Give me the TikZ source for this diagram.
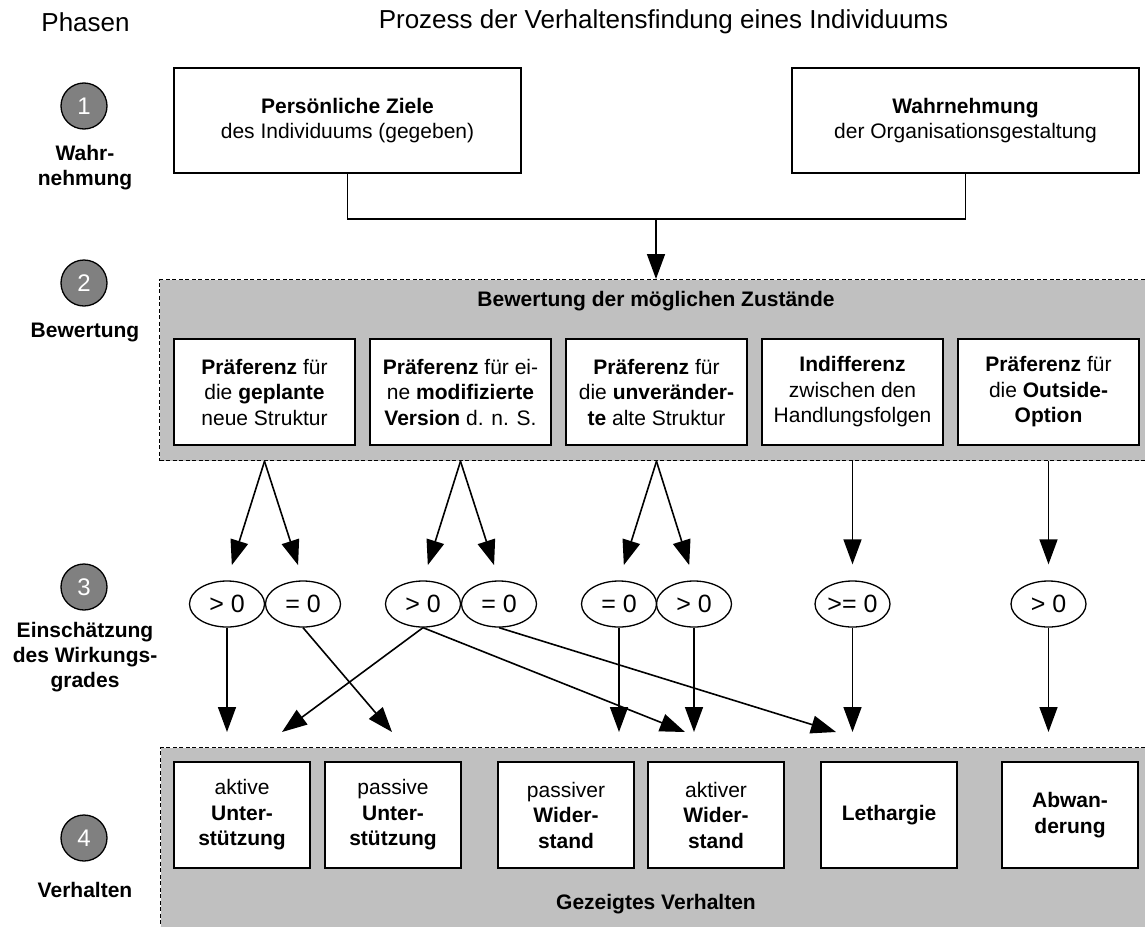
\documentclass[tikz,border=0pt]{standalone}
\usepackage{fontspec}
\setmainfont{Liberation Sans}
\usetikzlibrary{arrows.meta,shapes.geometric}
\definecolor{panelgray}{HTML}{C0C0C0}
\definecolor{phasegray}{HTML}{808080}
\begin{document}
\begin{tikzpicture}[x=1pt,y=-1pt,
  every node/.style={font=\fontsize{21}{25.5}\selectfont},
  box/.style={draw, fill=white, line width=1.6pt, align=center, inner sep=0pt},
  topbox/.style={box, minimum width=347pt, minimum height=105pt},
  evalbox/.style={box, minimum width=181pt, minimum height=106pt},
  actbox/.style={box, minimum width=136pt, minimum height=106pt},
  panel/.style={draw, fill=panelgray, line width=1.3pt, dash pattern=on 4pt off 2.5pt,
    inner sep=0pt, anchor=north west},
  rating/.style={ellipse, draw, line width=1.3pt, minimum width=75pt, minimum height=46pt,
    inner sep=0pt, font=\fontsize{25}{30}\selectfont},
  phase/.style={circle, draw, fill=phasegray, line width=1.3pt, minimum size=46pt,
    inner sep=0pt, text=white, font=\fontsize{24}{28}\selectfont},
  phaselabel/.style={align=center, font=\fontsize{21}{25}\selectfont\bfseries},
  heading/.style={font=\fontsize{26}{30}\selectfont},
  paneltitle/.style={font=\fontsize{21}{25}\selectfont\bfseries},
  link/.style={line width=1.6pt},
  arr/.style={link, -{Triangle[length=25pt,width=18pt]}},
]
\useasboundingbox (0,0) rectangle (1145,926);

% headings
\node[heading] (hphase) at (85.5,22) {Phasen};
\node[heading] (htitle) at (663.5,22) {Prozess der Verhaltensfindung eines Individuums};

% phase markers
\node[phase] (p1) at (84,106) {1};
\node[phaselabel] (l1) at (85,168) {Wahr-\\nehmung};
\node[phase] (p2) at (84,283) {2};
\node[phaselabel] (l2) at (85,332) {Bewertung};
\node[phase] (p3) at (84,587) {3};
\node[phaselabel] (l3) at (85,657) {Einschätzung\\des Wirkungs-\\grades};
\node[phase] (p4) at (84,838) {4};
\node[phaselabel] (l4) at (85,890) {Verhalten};

% phase 1: perception
\node[topbox] (t1) at (347.5,120.5) {\textbf{Persönliche Ziele}\\des Individuums (gegeben)};
\node[topbox] (t2) at (965.5,120.5) {\textbf{Wahrnehmung}\\der Organisationsgestaltung};

% phase 2: evaluation panel
\node[panel, minimum width=1000pt, minimum height=181pt] (bew) at (159,279) {};
\node[paneltitle] (bewt) at (656,301) {Bewertung der möglichen Zustände};
\node[evalbox] (ba) at (264.5,392) {\textbf{Präferenz} für\\die \textbf{geplante}\\neue Struktur};
\node[evalbox] (bb) at (460.5,392) {\textbf{Präferenz} für ei-\\ne \textbf{modifizierte}\\\textbf{Version} d. n. S.};
\node[evalbox] (bc) at (656.5,392) {\textbf{Präferenz} für\\die \textbf{unveränder-}\\\textbf{te} alte Struktur};
\node[evalbox] (bd) at (852.5,392) {\textbf{Indifferenz}\\zwischen den\\Handlungsfolgen};
\node[evalbox] (be) at (1048.5,392) {\textbf{Präferenz} für\\die \textbf{Outside-}\\\textbf{Option}};

% phase 3: estimated effectiveness
\node[rating] (e1) at (227,604) {> 0};
\node[rating] (e2) at (303,604) {= 0};
\node[rating] (e3) at (423,604) {> 0};
\node[rating] (e4) at (499,604) {= 0};
\node[rating] (e5) at (619,604) {= 0};
\node[rating] (e6) at (694,604) {> 0};
\node[rating] (e7) at (852.5,604) {>= 0};
\node[rating] (e8) at (1048.5,604) {> 0};

% phase 4: behaviour panel
\node[panel, minimum width=1000pt, minimum height=200pt] (ver) at (160,747) {};
\node[paneltitle] (vert) at (656,904) {Gezeigtes Verhalten};
\node[actbox] (v1) at (242,815) {aktive\\\textbf{Unter-}\\\textbf{stützung}};
\node[actbox] (v2) at (393,815) {passive\\\textbf{Unter-}\\\textbf{stützung}};
\node[actbox] (v3) at (566,815) {passiver\\\textbf{Wider-}\\\textbf{stand}};
\node[actbox] (v4) at (716,815) {aktiver\\\textbf{Wider-}\\\textbf{stand}};
\node[actbox] (v5) at (889,815) {\textbf{Lethargie}};
\node[actbox] (v6) at (1070,815) {\textbf{Abwan-}\\\textbf{derung}};

% joining the two perceptions
\coordinate (jn) at (656,219);
\draw[link] (t1.south) |- (jn) -| (t2.south);
\draw[arr] (jn) -- (jn |- bew.north);

% evaluation to effectiveness
\coordinate (sa) at (ba |- bew.south);
\coordinate (sb) at (bb |- bew.south);
\coordinate (sc) at (bc |- bew.south);
\coordinate (sd) at (bd |- bew.south);
\coordinate (se) at (be |- bew.south);
\draw[arr, shorten >=16pt] (sa) -- (e1.north);
\draw[arr, shorten >=16pt] (sa) -- (e2.north);
\draw[arr, shorten >=16pt] (sb) -- (e3.north);
\draw[arr, shorten >=16pt] (sb) -- (e4.north);
\draw[arr, shorten >=16pt] (sc) -- (e5.north);
\draw[arr, shorten >=16pt] (sc) -- (e6.north);
\draw[arr, shorten >=16pt] (sd) -- (e7.north);
\draw[arr, shorten >=16pt] (se) -- (e8.north);

% effectiveness to behaviour
\coordinate (k1) at (227,732);
\coordinate (k2) at (282,732);
\coordinate (k3) at (392,732);
\coordinate (k4) at (619,732);
\coordinate (k5) at (685,732);
\coordinate (k6) at (694,732);
\coordinate (k7) at (836,732);
\coordinate (k8) at (852.5,732);
\coordinate (k9) at (1048.5,732);
\draw[arr] (e1.south) -- (k1);
\draw[arr] (e2.south) -- (k3);
\draw[arr] (e3.south) -- (k2);
\draw[arr] (e3.south) -- (k5);
\draw[arr] (e4.south) -- (k7);
\draw[arr] (e5.south) -- (k4);
\draw[arr] (e6.south) -- (k6);
\draw[arr] (e7.south) -- (k8);
\draw[arr] (e8.south) -- (k9);
\end{tikzpicture}
\end{document}
